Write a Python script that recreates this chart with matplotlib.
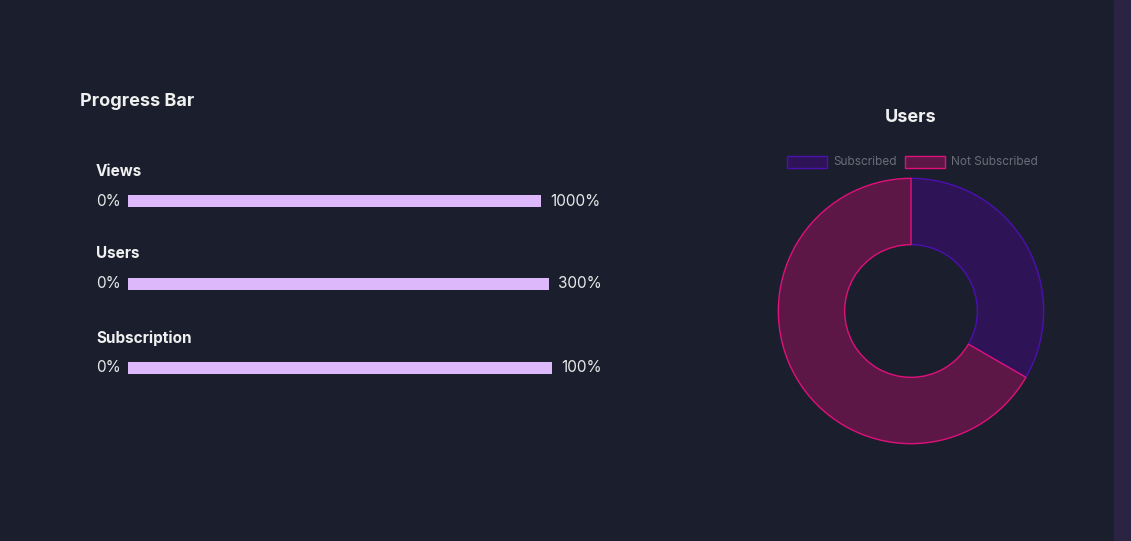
import matplotlib.pyplot as plt
from matplotlib.patches import Rectangle

plt.rcParams['font.family'] = ['Inter', 'DejaVu Sans']

bg = '#1b1f2d'
bar_color = '#ddb8fb'

progress_names = ['Views', 'Users', 'Subscription']
progress_values = [1000, 300, 100]
progress_labels = ['1000%', '300%', '100%']

pie_labels = ['Subscribed', 'Not Subscribed']
pie_values = [1, 2]
pie_fill = ['#2e1456', '#5c1747']
pie_edge = ['#4c0fb0', '#e0107a']

W, H = 1131, 541
fig = plt.figure(figsize=(W / 100, H / 100), dpi=100, facecolor=bg)

# right edge strip
fig.patches.append(Rectangle((1114 / W, 0), 17 / W, 1, transform=fig.transFigure,
                             color='#2a2342', zorder=0))

fig.text(80 / W, 1 - 102 / H, 'Progress Bar', color='#f0f0f0', fontsize=13,
         fontweight='bold', va='center')

rows_y = [171, 254, 338]
bar_right = [541, 549, 552]
for name, val, lab, y, xr in zip(progress_names, progress_values, progress_labels, rows_y, bar_right):
    fig.text(96 / W, 1 - y / H, name, color='#f0f0f0', fontsize=11, fontweight='bold', va='center')
    yb = y + 30
    fig.text(96 / W, 1 - yb / H, '0%', color='#e8e8e8', fontsize=11, va='center')
    fig.text((xr + 9) / W, 1 - yb / H, lab, color='#e8e8e8', fontsize=11, va='center')
    ax = fig.add_axes([128 / W, 1 - (yb + 6) / H, (xr - 128) / W, 12 / H])
    ax.barh([0], [val], height=1, color=bar_color)
    ax.set_xlim(0, val)
    ax.set_ylim(-0.5, 0.5)
    ax.axis('off')

fig.text(911 / W, 1 - 118 / H, 'Users', color='#f0f0f0', fontsize=13,
         fontweight='bold', ha='center', va='center')

# legend
lx = [787, 905]
for i, lab in enumerate(pie_labels):
    fig.patches.append(Rectangle((lx[i] / W, 1 - 168 / H), 40 / W, 12 / H,
                                 transform=fig.transFigure, facecolor=pie_fill[i],
                                 edgecolor=pie_edge[i], linewidth=1))
    fig.text((lx[i] + 46) / W, 1 - 162 / H, lab, color='#6b6e78', fontsize=8.5, va='center')

r = 134
pax = fig.add_axes([(911 - r) / W, 1 - (311 + r) / H, 2 * r / W, 2 * r / H])
wedges, _ = pax.pie(pie_values, colors=pie_fill, startangle=90, counterclock=False,
                    radius=1, wedgeprops=dict(width=0.5, linewidth=1))
for w, ec in zip(wedges, pie_edge):
    w.set_edgecolor(ec)
pax.set_xlim(-1.01, 1.01)
pax.set_ylim(-1.01, 1.01)
pax.set_aspect('auto')

fig.savefig('out.png', dpi=100, facecolor=bg)
